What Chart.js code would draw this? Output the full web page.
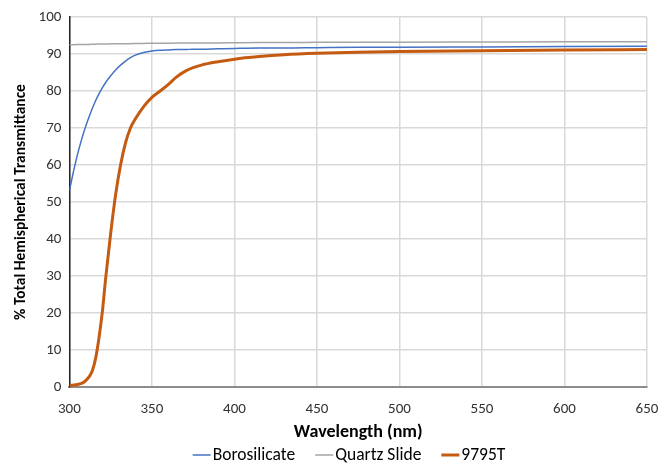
<!DOCTYPE html>
<html><head><meta charset="utf-8">
<script src="https://cdn.jsdelivr.net/npm/chart.js@4"></script>
<style>html,body{margin:0;padding:0;background:#fff}#w{width:661px;height:465px}</style>
</head><body><div id="w"><canvas id="c"></canvas></div>
<script>
const wavelengths = [300,302,304,306,308,310,312,314,316,318,320,322,325,328,331,334,337,340,345,350,355,360,365,370,375,380,390,400,415,430,450,475,500,550,600,650];
const borosilicate = [53,57.3,61.2,64.7,67.8,70.6,73.1,75.4,77.5,79.3,80.9,82.3,84.1,85.7,87.0,88.1,89.0,89.7,90.4,90.8,91,91.1,91.2,91.2,91.3,91.3,91.4,91.5,91.6,91.6,91.7,91.8,91.8,91.9,92,92.1];
const quartz = [92.5,92.5,92.55,92.55,92.6,92.6,92.6,92.65,92.65,92.7,92.7,92.7,92.75,92.75,92.8,92.8,92.8,92.85,92.85,92.9,92.9,92.9,92.95,92.95,93,93,93,93.05,93.1,93.1,93.15,93.2,93.2,93.25,93.3,93.3];
const t9795 = [0.4,0.5,0.6,0.8,1.1,1.8,2.8,4.5,8,13.5,20.5,29.5,41.5,52,60,66,70,72.5,75.8,78.3,80,81.8,83.8,85.3,86.3,87,87.9,88.6,89.3,89.8,90.2,90.5,90.7,90.9,91.1,91.2];
const seriesNames = ['Borosilicate','Quartz Slide','9795T'];
const xTicks = [300,350,400,450,500,550,600,650];
const yTicks = [0,10,20,30,40,50,60,70,80,90,100];

const FONT = 'Carlito, Calibri, Lato, "Liberation Sans", sans-serif';
const toXY = arr => arr.map((v,i)=>({x:wavelengths[i], y:v}));
const colors = ['#4472C4','#A5A5A5','#C55A11'];
const widths = [1.5,1.5,3];
const data = [borosilicate, quartz, t9795];

const lineLegend = {
  id: 'lineLegend',
  afterDraw(chart) {
    const ctx = chart.ctx;
    const ds = chart.data.datasets;
    ctx.save();
    ctx.font = '17.5px ' + FONT;
    ctx.textBaseline = 'middle';
    ctx.textAlign = 'left';
    const lineLen = 18, gap = 2, spacing = 20;
    const tw = ds.map(d => ctx.measureText(d.label).width);
    const total = tw.reduce((a,w)=>a+lineLen+gap+w,0) + spacing*(ds.length-1);
    let x = 349 - total/2;
    const y = 455;
    ds.forEach((d,i) => {
      ctx.strokeStyle = d.borderColor;
      ctx.lineWidth = d.borderWidth;
      ctx.beginPath(); ctx.moveTo(x, y); ctx.lineTo(x+lineLen, y); ctx.stroke();
      x += lineLen + gap;
      ctx.fillStyle = '#000';
      ctx.fillText(d.label, x, y + 1);
      x += tw[i] + spacing;
    });
    ctx.restore();
  }
};

new Chart(document.getElementById('c'), {
  type: 'line',
  data: {
    datasets: seriesNames.map((n,i)=>({
      label: n, data: toXY(data[i]), borderColor: colors[i], backgroundColor: colors[i],
      borderWidth: widths[i], pointRadius: 0, cubicInterpolationMode: 'monotone', fill: false
    }))
  },
  plugins: [lineLegend],
  options: {
    responsive: true, maintainAspectRatio: false, animation: false,
    layout: { padding: { top: 10, right: 14, left: 12, bottom: 22 } },
    plugins: {
      tooltip: { enabled: false },
      legend: { display: false }
    },
    scales: {
      x: {
        type: 'linear', min: 300, max: 650,
        afterBuildTicks: ax => { ax.ticks = xTicks.map(v=>({value:v})); },
        afterFit: ax => { ax.paddingLeft = 0; ax.paddingRight = 0; ax.height = 56; },
        ticks: { font: { family: FONT, size: 15 }, color: '#333', padding: 13 },
        grid: { color: '#d9d9d9', lineWidth: 1.5, drawTicks: false },
        border: { color: '#8c8c8c', width: 2 },
        title: { display: true, text: 'Wavelength (nm)', font: { family: FONT, size: 18, weight: 'bold' }, color: '#000', padding: { top: 3, bottom: 0 } }
      },
      y: {
        min: 0, max: 100,
        afterBuildTicks: ax => { ax.ticks = yTicks.map(v=>({value:v})); },
        ticks: { font: { family: FONT, size: 15 }, color: '#333', padding: 8 },
        grid: { color: '#d9d9d9', lineWidth: 1.5, drawTicks: false },
        border: { color: '#222', width: 1.5 },
        title: { display: true, text: '% Total Hemispherical Transmittance', font: { family: FONT, size: 15.5, weight: 'bold' }, color: '#000', padding: { top: 0, bottom: 0 } }
      }
    }
  }
});
</script></body></html>
